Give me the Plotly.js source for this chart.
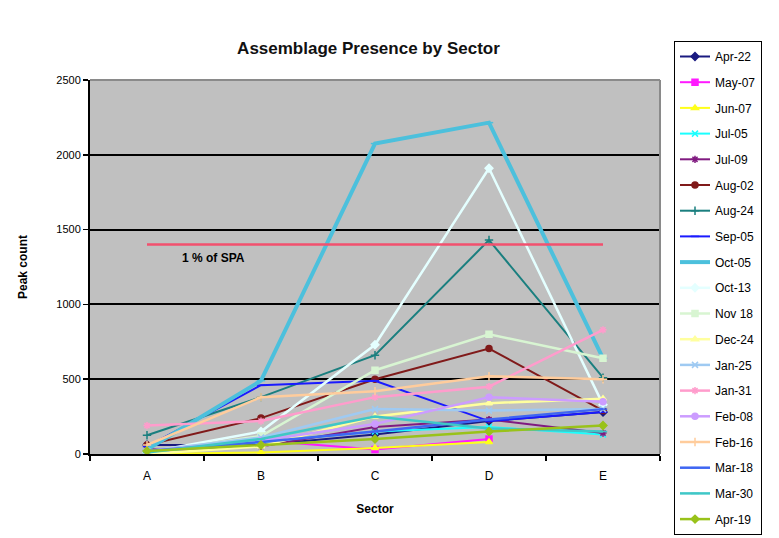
<!DOCTYPE html>
<html>
<head>
<meta charset="utf-8">
<script src="https://cdn.plot.ly/plotly-3.0.1.min.js"></script>
<style>html,body{margin:0;padding:0;background:#fff;}#chart{width:779px;height:538px;}</style>
</head>
<body>
<div id="chart"></div>
<script>
const sectors = ["A", "B", "C", "D", "E"];

const seriesNames = ["Apr-22", "May-07", "Jun-07", "Jul-05", "Jul-09", "Aug-02", "Aug-24", "Sep-05", "Oct-05", "Oct-13",
  "Nov 18", "Dec-24", "Jan-25", "Jan-31", "Feb-08", "Feb-16", "Mar-18", "Mar-30", "Apr-19"];

const apr22 = [60, 60, 130, 220, 280];
const may07 = [0, 90, 30, 100, null];
const jun07 = [0, 10, 40, 80, null];
const jul05 = [10, 80, 150, 180, 130];
const jul09 = [30, 50, 180, 230, 140];
const aug02 = [60, 240, 500, 705, 290];
const aug24 = [125, 380, 660, 1430, 510];
const sep05 = [50, 460, 490, 220, 280];
const oct05 = [30, 490, 2075, 2215, 640];
const oct13 = [10, 150, 730, 1910, 330];
const nov18 = [10, 120, 560, 800, 640];
const dec24 = [0, 50, 250, 340, 370];
const jan25 = [20, 110, 300, 290, 300];
const jan31 = [190, 220, 380, 450, 830];
const feb08 = [20, 90, 200, 380, 350];
const feb16 = [60, 380, 420, 520, 500];
const mar18 = [20, 80, 150, 230, 300];
const mar30 = [10, 100, 250, 170, 150];
const apr19 = [20, 60, 100, 150, 190];

const spaThreshold = [1400, 1400, 1400, 1400, 1400];
const yTicks = [0, 500, 1000, 1500, 2000, 2500];

const seriesValues = [apr22, may07, jun07, jul05, jul09, aug02, aug24, sep05, oct05, oct13,
  nov18, dec24, jan25, jan31, feb08, feb16, mar18, mar30, apr19];

const colors = ["#1a1a80", "#ff1aff", "#ffff1a", "#1affff", "#801a80", "#801a1a", "#1a7f7f", "#1a1aff", "#4cc0dc", "#e4ffff",
  "#d8f5d2", "#ffff9e", "#9fcaf2", "#ff9ccc", "#cc9cff", "#ffcc9c", "#3f66f2", "#3fc7c7", "#99c21a"];
const symbols = ["diamond", "square", "triangle-up", "x-thin-open", "asterisk-open", "circle", "cross-thin-open", "line-ew-open", "line-ew-open", "diamond",
  "square", "triangle-up", "x-thin-open", "asterisk-open", "circle", "cross-thin-open", "line-ew-open", "line-ew-open", "diamond"];
const widths = [2, 2, 2, 2, 2, 2, 2, 2, 4, 2.5, 2.5, 2.5, 2.5, 2.5, 2.5, 2.5, 2.5, 2.5, 2.5];

const traces = seriesNames.map((name, i) => ({
  type: "scatter",
  mode: "lines+markers",
  name: name,
  legendgroup: "g" + i,
  x: sectors,
  y: seriesValues[i],
  line: {color: colors[i], width: widths[i]},
  marker: {symbol: symbols[i], size: 6, color: colors[i], line: {color: colors[i], width: 1.5}},
  connectgaps: false
}));

traces.push({
  type: "scatter",
  mode: "lines",
  x: sectors,
  y: spaThreshold,
  line: {color: "#f2506e", width: 2.5},
  showlegend: false,
  hoverinfo: "skip"
});

const fontFam = "'Liberation Sans Narrow', 'Arial Narrow', 'Liberation Sans', Arial, sans-serif";

const layout = {
  width: 779,
  height: 538,
  margin: {l: 90, r: 119, t: 80, b: 84, autoexpand: false},
  paper_bgcolor: "#ffffff",
  plot_bgcolor: "#c0c0c0",
  font: {family: fontFam, size: 11, color: "#000"},
  title: {
    text: "<b>Assemblage Presence by Sector</b>",
    font: {family: fontFam, size: 17, color: "#111"},
    x: 0.473, xref: "container", xanchor: "center",
    y: 1 - 48 / 538, yref: "container", yanchor: "middle"
  },
  xaxis: {
    type: "category",
    range: [-0.5, 4.5],
    title: {text: "<b>Sector</b>", font: {family: fontFam, size: 12}, standoff: 22},
    showline: true, linecolor: "#000", linewidth: 2,
    ticks: "outside", ticklen: 5, tickcolor: "#000", tickwidth: 1.5,
    tickson: "boundaries",
    ticklabelstandoff: 10,
    showgrid: false, zeroline: false,
    tickfont: {family: fontFam, size: 12}
  },
  yaxis: {
    title: {text: "<b>Peak count</b>", font: {family: fontFam, size: 12}, standoff: 26},
    range: [0, 2500],
    tickvals: yTicks,
    ticktext: yTicks.map(String),
    showline: true, linecolor: "#000", linewidth: 2,
    ticks: "outside", ticklen: 5, tickcolor: "#000", tickwidth: 1.5,
    showgrid: true, gridcolor: "#000", gridwidth: 2,
    zeroline: false,
    tickfont: {family: fontFam, size: 11}
  },
  legend: {
    x: (674 - 90) / 570, xanchor: "left",
    y: (454 - 41) / 374, yanchor: "top",
    bgcolor: "#ffffff",
    bordercolor: "#000", borderwidth: 1,
    font: {family: fontFam, size: 12, color: "#000"},
    tracegroupgap: 6.7,
    traceorder: "grouped",
    entrywidth: 110,
    maxheight: 700
  },
  shapes: [
    {type: "line", xref: "paper", yref: "paper", x0: 0, x1: 1, y0: 1, y1: 1, line: {color: "#8a8a8a", width: 2}, layer: "above"},
    {type: "line", xref: "paper", yref: "paper", x0: 1, x1: 1, y0: 0, y1: 1, line: {color: "#8a8a8a", width: 2}, layer: "above"}
  ],
  annotations: [
    {text: "<b>1 % of SPA</b>", xref: "paper", yref: "paper", x: (213 - 90) / 570, y: (454 - 258) / 374,
     xanchor: "center", yanchor: "middle",
     showarrow: false, font: {family: fontFam, size: 12, color: "#000"}}
  ],
  showlegend: true
};

Plotly.newPlot("chart", traces, layout, {displayModeBar: false, staticPlot: true});
</script>
</body>
</html>
